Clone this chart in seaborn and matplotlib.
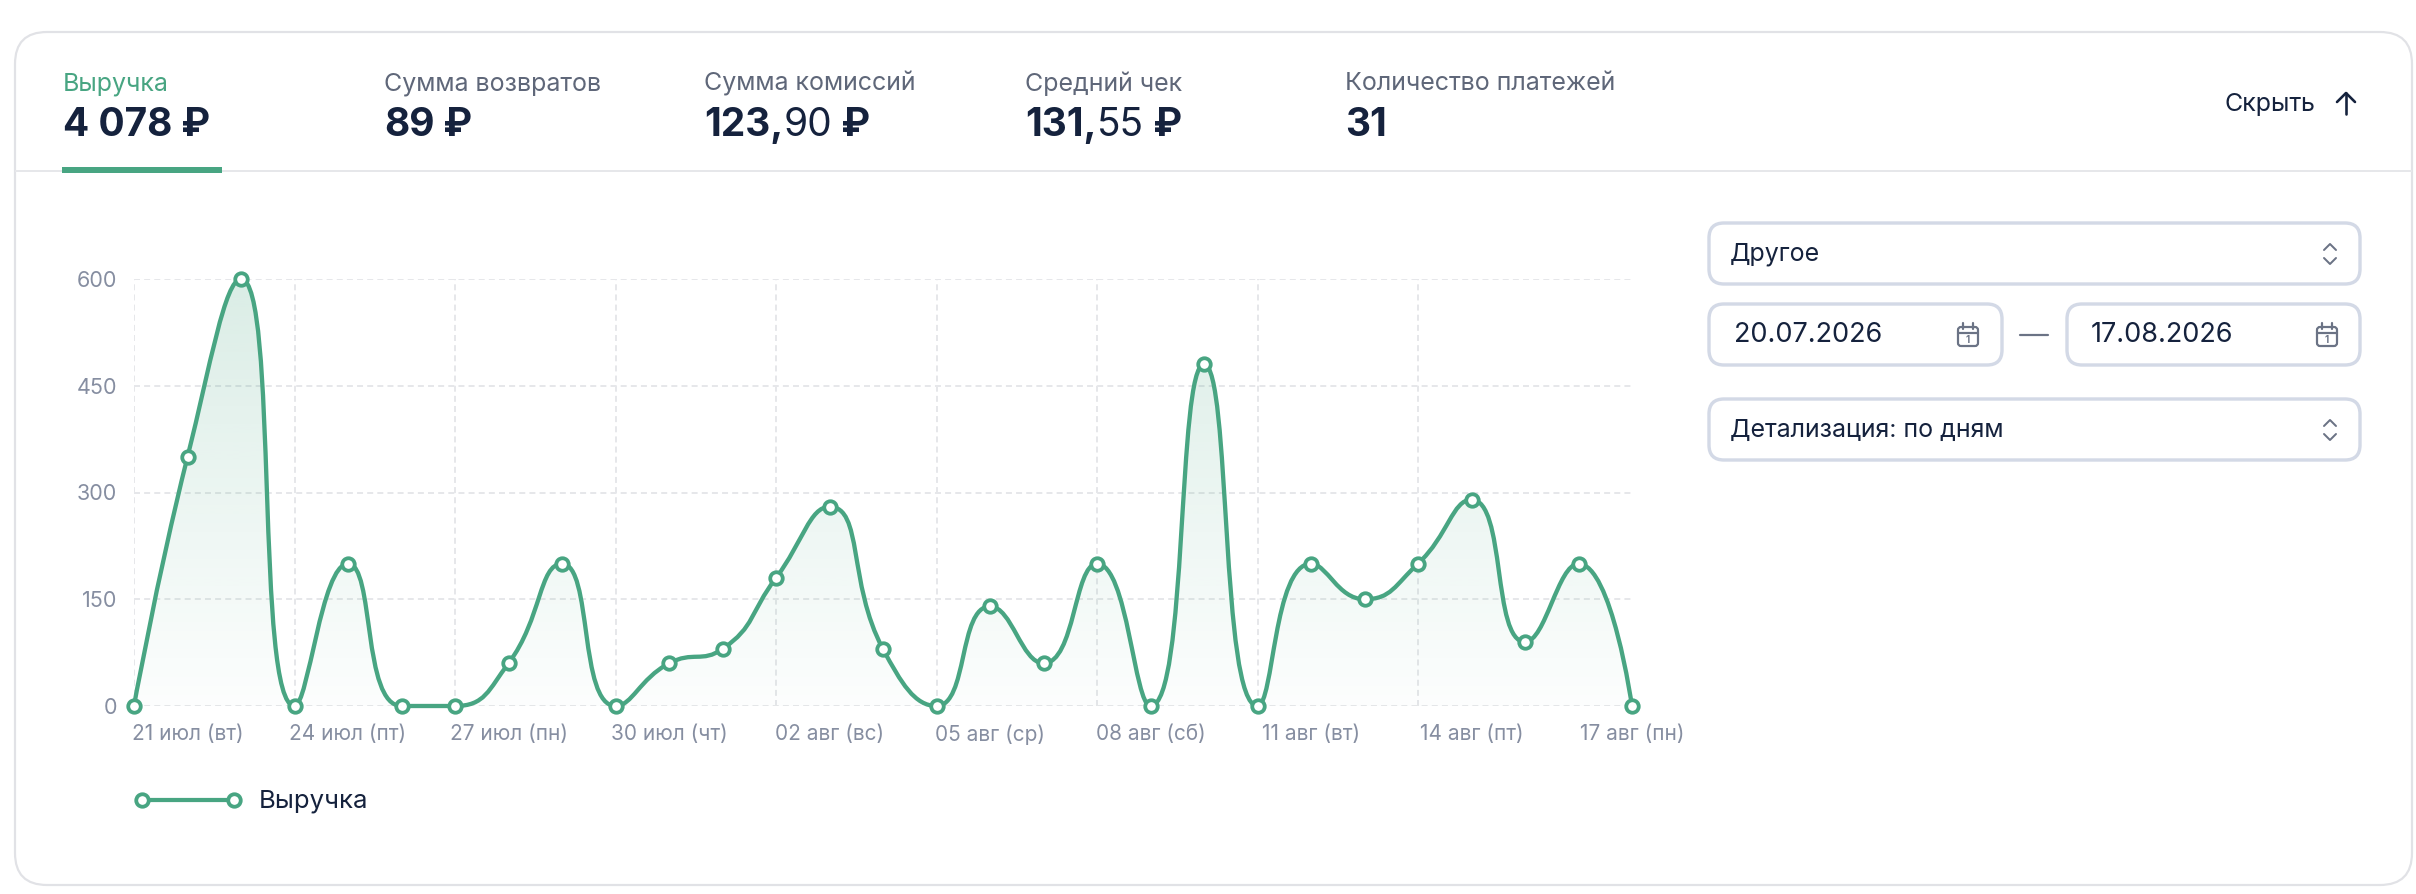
import numpy as np
import pandas as pd
import matplotlib
matplotlib.use("Agg")
import matplotlib.pyplot as plt
import seaborn as sns
from matplotlib.path import Path
from matplotlib.patches import PathPatch, FancyBboxPatch, Rectangle

# ---------------- data ----------------
dates = pd.date_range("2026-07-20", "2026-08-17", freq="D")
revenue = [0, 350, 600, 0, 200, 0, 0, 60, 200, 0, 60, 80, 180, 280, 80,
           0, 140, 60, 200, 0, 480, 0, 200, 150, 200, 290, 90, 200, 0]
tick_idx = [1, 4, 7, 10, 13, 16, 19, 22, 25, 28]
tick_labels = ["21 июл (вт)", "24 июл (пт)", "27 июл (пн)", "30 июл (чт)",
               "02 авг (вс)", "05 авг (ср)", "08 авг (сб)", "11 авг (вт)",
               "14 авг (пт)", "17 авг (пн)"]
grid_idx = [0, 3, 6, 9, 12, 15, 18, 21, 24, 28]
y_ticks = [0, 150, 300, 450, 600]
tab_labels = ["Выручка", "Сумма возвратов", "Сумма комиссий", "Средний чек",
              "Количество платежей"]
tab_values = [[("4 078", "bold"), (" ₽", "bold")],
              [("89", "bold"), (" ₽", "bold")],
              [("123,", "bold"), ("90", "normal"), (" ₽", "bold")],
              [("131,", "bold"), ("55", "normal"), (" ₽", "bold")],
              [("31", "bold")]]
series_name = "Выручка"
period_option = "Другое"
date_from = "20.07.2026"
date_to = "17.08.2026"
detail_option = "Детализация: по дням"
hide_label = "Скрыть"

df = pd.DataFrame({"idx": np.arange(len(revenue)), "value": revenue, "date": dates})

# ---------------- style ----------------
GREEN = "#48a582"
NAVY = "#15223d"
GRAY = "#5f6779"
AX_GRAY = "#868ea1"
BORDER = "#d3d9e6"
LINE_GRAY = "#e6e7ea"

sns.set_theme(style="white")
plt.rcParams["font.family"] = ["Inter", "DejaVu Sans"]
plt.rcParams["lines.scale_dashes"] = False

W, H = 2416, 894
fig = plt.figure(figsize=(W / 100, H / 100), dpi=100)
fig.patch.set_facecolor("white")
PX = 72 / 100  # points per pixel

bg = fig.add_axes([0, 0, 1, 1])
bg.set_xlim(0, W)
bg.set_ylim(H, 0)
bg.axis("off")

# card
bg.add_patch(FancyBboxPatch((15, 32), 2397, 853, boxstyle="round,pad=0,rounding_size=32",
                            ec="#e1e2e6", fc="white", lw=2.2 * PX))
# header separator and active underline
bg.plot([15, 2412], [171, 171], color=LINE_GRAY, lw=2 * PX, solid_capstyle="butt", zorder=2)
bg.add_patch(Rectangle((62, 167), 160, 6, color=GREEN, lw=0, zorder=3))

renderer = fig.canvas.get_renderer()

def runs_text(x, y, runs, size, color):
    for txt, weight in runs:
        t = bg.text(x, y, txt, fontsize=size, fontweight=weight, color=color,
                    va="center", ha="left")
        bb = t.get_window_extent(renderer=renderer)
        x += bb.width

tab_x = [63, 384, 704, 1025, 1345]
for i, (lab, val) in enumerate(zip(tab_labels, tab_values)):
    bg.text(tab_x[i], 84, lab, fontsize=18, color=GREEN if i == 0 else GRAY,
            va="center", ha="left")
    runs_text(tab_x[i], 125, val, 28, NAVY)

# hide button
bg.text(2224, 104, hide_label, fontsize=18, color=NAVY, va="center", ha="left")
bg.plot([2346, 2346], [93, 114], color=NAVY, lw=2.6 * PX, solid_capstyle="round")
bg.plot([2337, 2346, 2355], [102, 93, 102], color=NAVY, lw=2.6 * PX,
        solid_capstyle="round", solid_joinstyle="round")

# right panel controls
def box(x0, y0, x1, y1):
    bg.add_patch(FancyBboxPatch((x0, y0), x1 - x0, y1 - y0,
                                boxstyle="round,pad=0,rounding_size=15",
                                ec=BORDER, fc="white", lw=3.4 * PX))

def chevrons(cx, cy):
    kw = dict(color="#6b7385", lw=2 * PX, solid_capstyle="round", solid_joinstyle="round")
    bg.plot([cx - 6, cx, cx + 6], [cy - 4, cy - 10, cy - 4], **kw)
    bg.plot([cx - 6, cx, cx + 6], [cy + 4, cy + 10, cy + 4], **kw)

def calendar(cx, cy):
    c = "#6b7385"
    bg.add_patch(FancyBboxPatch((cx - 10, cy - 8), 20, 19,
                                boxstyle="round,pad=0,rounding_size=3",
                                ec=c, fc="none", lw=2.2 * PX))
    bg.plot([cx - 10, cx + 10], [cy - 2, cy - 2], color=c, lw=2.2 * PX)
    for dx in (-5, 5):
        bg.plot([cx + dx, cx + dx], [cy - 12, cy - 6], color=c, lw=2.2 * PX,
                solid_capstyle="round")
    bg.text(cx, cy + 5, "1", fontsize=7, color=c, ha="center", va="center",
            fontweight="bold")

box(1709, 223, 2360, 284)
bg.text(1730, 254, period_option, fontsize=18, color=NAVY, va="center")
chevrons(2330, 254)

box(1709, 304, 2002, 365)
bg.text(1734, 335, date_from, fontsize=19.5, color=NAVY, va="center")
calendar(1968, 335)
bg.plot([2020, 2048], [335, 335], color="#6b7385", lw=2.2 * PX)
box(2067, 304, 2360, 365)
bg.text(2091, 335, date_to, fontsize=19.5, color=NAVY, va="center")
calendar(2327, 335)

box(1709, 399, 2360, 460)
bg.text(1730, 430, detail_option, fontsize=18, color=NAVY, va="center")
chevrons(2330, 430)

# legend
bg.plot([142, 234], [800, 800], color=GREEN, lw=4.2 * PX, zorder=3)
bg.scatter([142, 234], [800, 800], s=(12.5 * PX) ** 2, facecolor="white",
           edgecolor=GREEN, linewidth=3.8 * PX, zorder=4)
bg.text(259, 801, series_name, fontsize=18.5, color=NAVY, va="center", ha="left")

# ---------------- chart ----------------
x0p, x1p, y0p, y1p = 134, 1632, 706, 279
ax = fig.add_axes([x0p / W, (H - y0p) / H, (x1p - x0p) / W, (y0p - y1p) / H])
ax.patch.set_alpha(0)
ax.set_xlim(0, len(revenue) - 1)
ax.set_ylim(0, 600)
for s in ax.spines.values():
    s.set_visible(False)

ax.set_yticks(y_ticks)
ax.set_yticklabels([str(v) for v in y_ticks])
ax.set_xticks(tick_idx)
ax.set_xticklabels(tick_labels)
ax.set_xticks(grid_idx, minor=True)
ax.tick_params(axis="both", which="both", length=0, labelsize=15.5, colors=AX_GRAY)
ax.tick_params(axis="x", labelsize=15, pad=13)
ax.tick_params(axis="y", pad=12)
ax.grid(False)
ax.grid(True, axis="y", which="major", color=LINE_GRAY, lw=2 * PX, linestyle=(0, (4.3, 3)))
ax.grid(True, axis="x", which="minor", color=LINE_GRAY, lw=2 * PX, linestyle=(0, (4.3, 3)))

# pixel scale for ECharts-like smoothing
pts = ax.transData.transform([(0, 0), (1, 1)])
sx, sy = pts[1, 0] - pts[0, 0], pts[1, 1] - pts[0, 1]
X = df["idx"].to_numpy(float) * sx
Y = df["value"].to_numpy(float) * sy

def smooth_path(X, Y, smooth=0.5):
    verts = [(X[0], Y[0])]
    codes = [Path.MOVETO]
    cpx0, cpy0 = X[0], Y[0]
    n = len(X)
    for i in range(1, n):
        x, y = X[i], Y[i]
        px, py = X[i - 1], Y[i - 1]
        if i == n - 1:
            cpx1, cpy1 = x, y
            ncx, ncy = x, y
        else:
            nx, ny = X[i + 1], Y[i + 1]
            vx, vy = nx - px, ny - py
            lp = np.hypot(x - px, y - py)
            ln = np.hypot(nx - x, ny - y)
            r = ln / (ln + lp)
            ncx = x + vx * smooth * r
            ncy = y + vy * smooth * r
            ncx = min(ncx, max(nx, x)); ncy = min(ncy, max(ny, y))
            ncx = max(ncx, min(nx, x)); ncy = max(ncy, min(ny, y))
            vx, vy = ncx - x, ncy - y
            cpx1 = x - vx * lp / ln
            cpy1 = y - vy * lp / ln
            cpx1 = min(cpx1, max(px, x)); cpy1 = min(cpy1, max(py, y))
            cpx1 = max(cpx1, min(px, x)); cpy1 = max(cpy1, min(py, y))
            vx, vy = x - cpx1, y - cpy1
            ncx = x + vx * ln / lp
            ncy = y + vy * ln / lp
        verts += [(cpx0, cpy0), (cpx1, cpy1), (x, y)]
        codes += [Path.CURVE4] * 3
        cpx0, cpy0 = ncx, ncy
    v = np.array(verts)
    v[:, 0] /= sx
    v[:, 1] /= sy
    return v, codes

verts, codes = smooth_path(X, Y)
line_path = Path(verts, codes)

# gradient area
area_verts = np.vstack([verts, [[len(revenue) - 1, 0], [0, 0], [0, 0]]])
area_codes = list(codes) + [Path.LINETO, Path.LINETO, Path.CLOSEPOLY]
area_patch = PathPatch(Path(area_verts, area_codes), fc="none", ec="none")
ax.add_patch(area_patch)
g = np.linspace(0.2, 0.015, 256).reshape(-1, 1)
rgba = np.zeros((256, 1, 4))
rgba[..., :3] = matplotlib.colors.to_rgb(GREEN)
rgba[..., 3] = g
im = ax.imshow(rgba, extent=[0, len(revenue) - 1, 0, max(revenue)], origin="upper",
               aspect="auto", zorder=1, interpolation="bilinear")
im.set_clip_path(area_patch)

ax.add_patch(PathPatch(line_path, fc="none", ec=GREEN, lw=4.3 * PX, zorder=3,
                       clip_on=False, capstyle="round", joinstyle="round"))

sns.scatterplot(data=df, x="idx", y="value", ax=ax, s=(12.5 * PX) ** 2,
                facecolor="white", edgecolor=GREEN, linewidth=3.8 * PX,
                zorder=4, clip_on=False, legend=False)
ax.set_xlabel("")
ax.set_ylabel("")
ax.set_xlim(0, len(revenue) - 1)
ax.set_ylim(0, 600)

fig.savefig("out.png", dpi=100, facecolor="white")
